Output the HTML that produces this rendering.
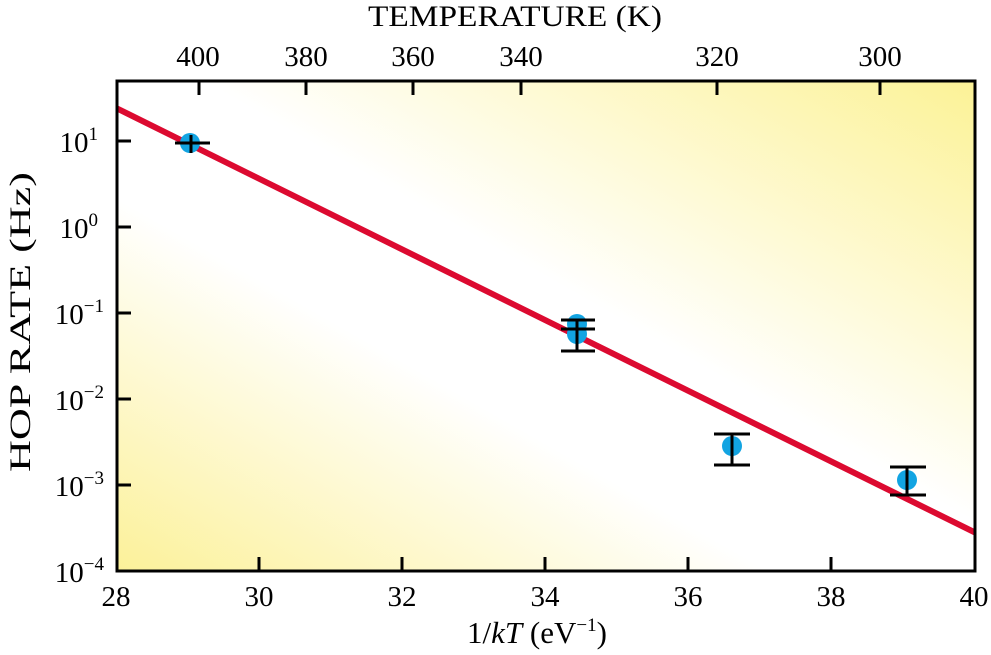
<!DOCTYPE html>
<html><head><style>
body{margin:0;background:#fff;}
svg{display:block;font-family:"Liberation Serif",serif;}
</style></head><body>
<svg width="991" height="655" viewBox="0 0 991 655">
<defs>
<linearGradient id="g" x1="0" y1="1" x2="1" y2="0">
<stop offset="0" stop-color="#fcf199"/>
<stop offset="0.38" stop-color="#fff"/>
<stop offset="0.55" stop-color="#fff"/>
<stop offset="1" stop-color="#fcf296"/>
</linearGradient>
<clipPath id="c"><rect x="117" y="81" width="858" height="490"/></clipPath>
</defs>
<rect x="117" y="81" width="858" height="490" fill="url(#g)"/>
<g clip-path="url(#c)">
<line x1="110" y1="105" x2="980" y2="535" stroke="#dc0a30" stroke-width="6"/>
</g>
<g fill="#12a4e2">
<circle cx="190" cy="143" r="10"/>
<circle cx="577" cy="324" r="10"/>
<circle cx="577" cy="334" r="10"/>
<circle cx="732" cy="446" r="10"/>
<circle cx="907" cy="480" r="10"/>
</g>
<g stroke="#000" stroke-width="3">
<line x1="175" y1="143" x2="210" y2="143"/><line x1="191" y1="135" x2="191" y2="153"/>
<line x1="577" y1="320" x2="577" y2="351"/>
<line x1="561" y1="320" x2="595" y2="320"/><line x1="561" y1="329" x2="595" y2="329"/><line x1="561" y1="351" x2="595" y2="351"/>
<line x1="732" y1="434" x2="732" y2="465"/>
<line x1="714" y1="434" x2="750" y2="434"/><line x1="714" y1="465" x2="750" y2="465"/>
<line x1="907" y1="467" x2="907" y2="495"/>
<line x1="890" y1="467" x2="926" y2="467"/><line x1="890" y1="495" x2="926" y2="495"/>
</g>
<rect x="117" y="81" width="858" height="490" fill="none" stroke="#000" stroke-width="3"/>
<g stroke="#000" stroke-width="3">
<line x1="259" y1="571" x2="259" y2="557"/><line x1="402" y1="571" x2="402" y2="557"/>
<line x1="545" y1="571" x2="545" y2="557"/><line x1="688" y1="571" x2="688" y2="557"/>
<line x1="831" y1="571" x2="831" y2="557"/>
<line x1="117" y1="141" x2="131" y2="141"/><line x1="117" y1="227" x2="131" y2="227"/>
<line x1="117" y1="313" x2="131" y2="313"/><line x1="117" y1="399" x2="131" y2="399"/>
<line x1="117" y1="485" x2="131" y2="485"/>
<line x1="199" y1="81" x2="199" y2="95"/><line x1="306" y1="81" x2="306" y2="95"/>
<line x1="413" y1="81" x2="413" y2="95"/><line x1="521" y1="81" x2="521" y2="95"/>
<line x1="717" y1="81" x2="717" y2="95"/><line x1="880" y1="81" x2="880" y2="95"/>
</g>
<g font-size="29" text-anchor="middle" fill="#000">
<text x="116" y="606">28</text><text x="259" y="606">30</text><text x="402" y="606">32</text>
<text x="545" y="606">34</text><text x="688" y="606">36</text><text x="831" y="606">38</text><text x="974" y="606">40</text>
<text x="198" y="66">400</text><text x="306" y="66">380</text><text x="413" y="66">360</text>
<text x="521" y="66">340</text><text x="717" y="66">320</text><text x="880" y="66">300</text>
<text x="515" y="26" font-size="30" textLength="294" lengthAdjust="spacingAndGlyphs">TEMPERATURE (K)</text>
<text x="537" y="643" font-size="31">1/<tspan font-style="italic">kT</tspan> (eV<tspan font-size="19" dy="-12">−1</tspan><tspan dy="12">)</tspan></text>
</g>
<g font-size="29" text-anchor="end" fill="#000">
<text x="98" y="152">10<tspan font-size="19" dy="-12">1</tspan></text>
<text x="98" y="238">10<tspan font-size="19" dy="-12">0</tspan></text>
<text x="104" y="324">10<tspan font-size="19" dy="-12">−1</tspan></text>
<text x="104" y="410">10<tspan font-size="19" dy="-12">−2</tspan></text>
<text x="104" y="496">10<tspan font-size="19" dy="-12">−3</tspan></text>
<text x="104" y="582">10<tspan font-size="19" dy="-12">−4</tspan></text>
</g>
<text transform="translate(30,322) rotate(-90)" font-size="30" text-anchor="middle" textLength="300" lengthAdjust="spacingAndGlyphs">HOP  RATE (Hz)</text>
</svg>
</body></html>
